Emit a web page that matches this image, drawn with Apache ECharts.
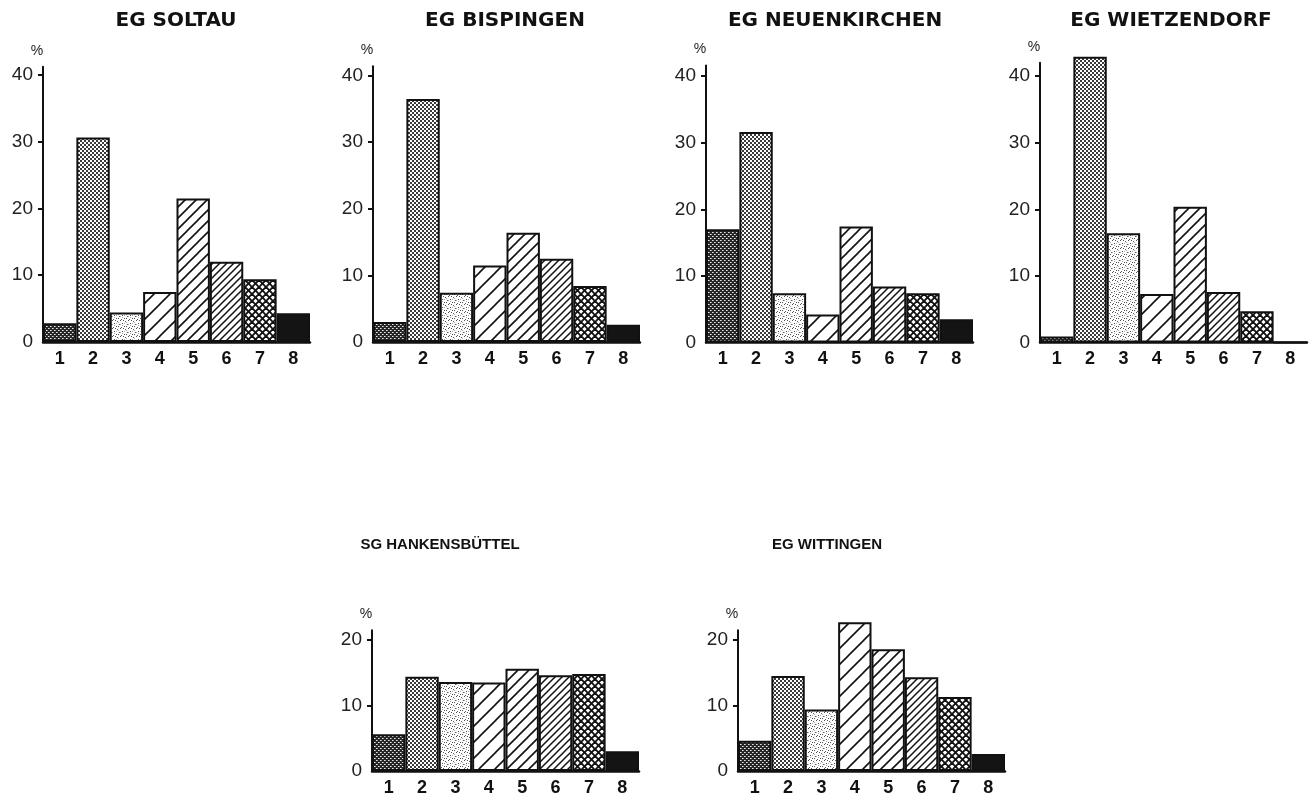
<!DOCTYPE html>
<html>
<head>
<meta charset="utf-8">
<title>Betriebsgrößenklassen</title>
<script src="https://cdn.jsdelivr.net/npm/echarts@6/dist/echarts.min.js"></script>
<style>
  html, body { margin: 0; padding: 0; background: #fff; }
  #chart { width: 1316px; height: 798px; }
</style>
</head>
<body>
<div id="chart"></div>
<script>
// Size classes 1–8 and the share (%) of each class per municipality
const categories = ['1', '2', '3', '4', '5', '6', '7', '8'];

const soltau         = [2.8, 30.6, 4.4, 7.5, 21.5, 12.0, 9.4, 4.3];
const bispingen      = [3.0, 36.5, 7.4, 11.5, 16.4, 12.5, 8.4, 2.6];
const neuenkirchen   = [17.0, 31.6, 7.4, 4.2, 17.4, 8.4, 7.4, 3.5];
const wietzendorf    = [0.9, 42.9, 16.4, 7.3, 20.4, 7.6, 4.7, 0];
const hankensbuettel = [5.6, 14.4, 13.6, 13.5, 15.6, 14.6, 14.8, 3.0];
const wittingen      = [4.6, 14.5, 9.4, 22.7, 18.6, 14.3, 11.3, 2.6];

const titles = ['EG SOLTAU', 'EG BISPINGEN', 'EG NEUENKIRCHEN', 'EG WIETZENDORF',
                'SG HANKENSBÜTTEL', 'EG WITTINGEN'];
const series = [soltau, bispingen, neuenkirchen, wietzendorf, hankensbuettel, wittingen];

const tickLabelsLarge = [0, 10, 20, 30, 40];
const tickLabelsSmall = [0, 10, 20];

// ---- fill patterns for the eight classes ----
function tile(size, draw) {
  const c = document.createElement('canvas');
  c.width = c.height = size;
  const g = c.getContext('2d');
  g.fillStyle = '#fff';
  g.fillRect(0, 0, size, size);
  draw(g, size);
  return { image: c, repeat: 'repeat' };
}
function px(g, color, pts, w, h) {
  g.fillStyle = color;
  pts.forEach(p => g.fillRect(p[0], p[1], w || 1, h || 1));
}
function diagonal(s, w) {
  return tile(s, (g) => {
    g.strokeStyle = '#111';
    g.lineWidth = w;
    [0, s, 2 * s].forEach(c => {
      g.beginPath();
      g.moveTo(c - s - 2, s + 2);
      g.lineTo(c + 2, -2);
      g.stroke();
    });
  });
}
function crossHatch(s, w) {
  return tile(s, (g) => {
    g.strokeStyle = '#111';
    g.lineWidth = w;
    [0, s, 2 * s].forEach(c => {
      g.beginPath(); g.moveTo(c - s - 2, s + 2); g.lineTo(c + 2, -2); g.stroke();
    });
    [-s, 0, s].forEach(c => {
      g.beginPath(); g.moveTo(c - 2, -2); g.lineTo(c + s + 2, s + 2); g.stroke();
    });
  });
}

const fills = [
  // 1: dark dense dot screen
  tile(4, (g, s) => {
    g.fillStyle = '#262626'; g.fillRect(0, 0, s, s);
    px(g, '#e8e8e8', [[0, 0], [2, 2]]);
    px(g, '#999', [[1, 0], [3, 2]]);
  }),
  // 2: medium dot screen (45° halftone)
  tile(4, (g) => {
    px(g, '#3a3a3a', [[0, 0], [2, 2]], 2, 2);
  }),
  // 3: light stipple
  tile(8, (g) => {
    px(g, '#555', [[0, 0], [5, 1], [2, 3], [7, 4], [4, 6], [1, 7], [3, 0], [6, 6]]);
    px(g, '#aaa', [[2, 5], [6, 2], [0, 4], [4, 3]]);
  }),
  // 4–6: hatching, widening to narrowing spacing
  diagonal(16, 1.6),
  diagonal(11, 1.6),
  diagonal(7, 1.5),
  // 7: cross hatching
  crossHatch(7, 1.9),
  // 8: solid
  '#141414'
];

// ---- panel layout: axis origin (x, y of zero), pixels per unit, axis top value ----
const panels = [
  { left: 43,  zeroY: 342,   unit: 6.68, max: 41.2, ticks: tickLabelsLarge, titleX: 176, titleY: 21 },
  { left: 373, zeroY: 342,   unit: 6.66, max: 41.4, ticks: tickLabelsLarge, titleX: 505, titleY: 21 },
  { left: 706, zeroY: 342.5, unit: 6.66, max: 41.6, ticks: tickLabelsLarge, titleX: 835, titleY: 21 },
  { left: 1040, zeroY: 342.5, unit: 6.66, max: 42,  ticks: tickLabelsLarge, titleX: 1171, titleY: 21 },
  { left: 372, zeroY: 771,   unit: 6.55, max: 21.5, ticks: tickLabelsSmall, titleX: 440, titleY: 545 },
  { left: 738, zeroY: 771,   unit: 6.55, max: 21.5, ticks: tickLabelsSmall, titleX: 827, titleY: 545 }
];
const PANEL_WIDTH = 267;

const grid = [], xAxis = [], yAxis = [], seriesOpt = [], graphic = [];

panels.forEach((p, i) => {
  const h = p.max * p.unit;
  grid.push({
    left: p.left,
    top: p.zeroY - h,
    width: PANEL_WIDTH,
    height: h
  });
  xAxis.push({
    type: 'category',
    gridIndex: i,
    data: categories,
    boundaryGap: true,
    axisLine: { show: true, lineStyle: { color: '#111', width: 2.5 } },
    axisTick: { show: false },
    axisLabel: {
      interval: 0,
      margin: 8,
      color: '#111',
      fontFamily: 'Liberation Sans',
      fontWeight: 'bold',
      fontSize: 18
    },
    splitLine: { show: false }
  });
  yAxis.push({
    type: 'value',
    gridIndex: i,
    min: 0,
    max: p.max,
    interval: 10,
    name: '%',
    nameLocation: 'end',
    nameGap: 9,
    nameTextStyle: {
      color: '#222',
      fontFamily: 'Liberation Sans',
      fontSize: 14,
      padding: [0, 12, 0, 0]
    },
    axisLine: { show: true, lineStyle: { color: '#111', width: 2 } },
    axisTick: {
      show: true,
      length: 5,
      lineStyle: { color: '#111', width: 2 },
      customValues: p.ticks.filter(v => v > 0)
    },
    axisLabel: {
      margin: 10,
      color: '#222',
      fontFamily: 'Liberation Sans',
      fontSize: 19,
      customValues: p.ticks,
      formatter: (v) => (v % 10 === 0 ? String(v) : '')
    },
    splitLine: { show: false }
  });
  seriesOpt.push({
    type: 'bar',
    xAxisIndex: i,
    yAxisIndex: i,
    barCategoryGap: '0%',
    clip: false,
    silent: true,
    data: series[i].map((v, k) => ({
      value: v,
      itemStyle: { color: fills[k], borderColor: '#111', borderWidth: 2 }
    }))
  });
  graphic.push({
    type: 'text',
    x: p.titleX,
    y: p.titleY,
    silent: true,
    style: {
      text: titles[i],
      fill: '#111',
      font: i < 4 ? 'bold 20px "DejaVu Sans"' : 'bold 15px "Liberation Sans"',
      textAlign: 'center',
      textVerticalAlign: 'middle'
    }
  });
});

const chart = echarts.init(document.getElementById('chart'), null, { renderer: 'canvas' });
chart.setOption({
  animation: false,
  backgroundColor: '#fff',
  grid: grid,
  xAxis: xAxis,
  yAxis: yAxis,
  series: seriesOpt,
  graphic: graphic
});
</script>
</body>
</html>
